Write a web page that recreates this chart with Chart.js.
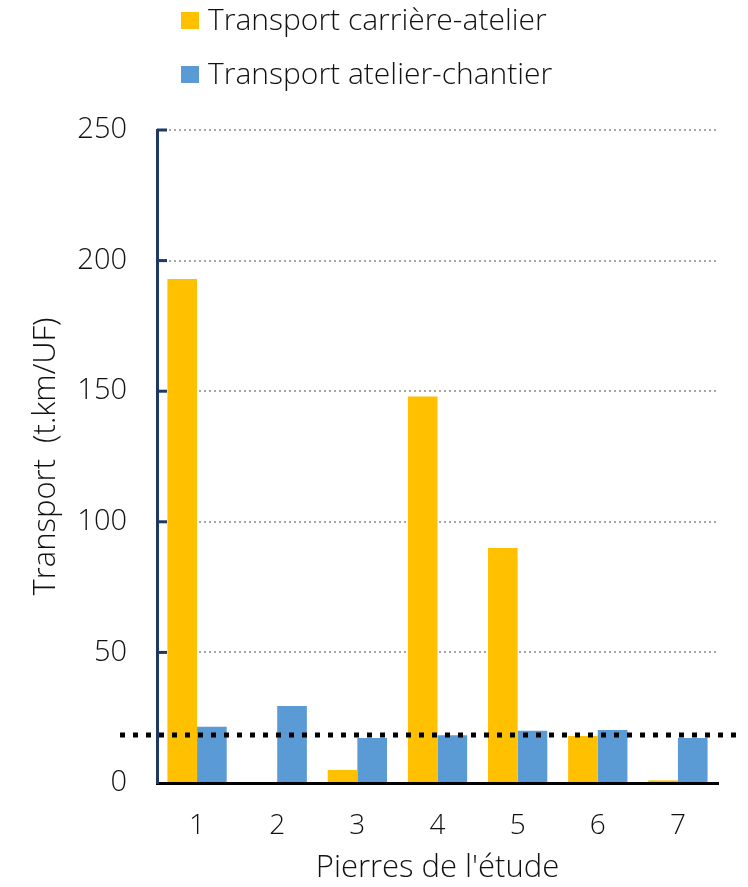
<!DOCTYPE html>
<html>
<head>
<meta charset="utf-8">
<script src="https://cdn.jsdelivr.net/npm/chart.js@4/dist/chart.umd.min.js"></script>
<style>
	html, body { margin: 0; padding: 0; background: #fff; }
	#wrap { width: 748px; height: 887px; }
</style>
</head>
<body>
<div id="wrap"><canvas id="chart" width="748" height="887"></canvas></div>
<script>
var pierres = ["1", "2", "3", "4", "5", "6", "7"];
var carriereAtelier = [193, 0, 5, 148, 90, 18, 1];
var atelierChantier = [21.5, 29.5, 17.2, 18.3, 20, 20.3, 17.2];
var seuil = 18.4; // dotted reference line
var yTicks = [0, 50, 100, 150, 200, 250];

var fontFamily = "'Open Sans', 'Noto Sans', sans-serif";
var navy = "#1f3864";
var textColor = "#111";

// legend drawn by hand: two rows, left aligned
var stackedLegend = {
	id: "stackedLegend",
	afterDraw: function (chart) {
		var ctx = chart.ctx;
		ctx.save();
		ctx.font = "300 30px " + fontFamily;
		ctx.textBaseline = "middle";
		chart.data.datasets.forEach(function (ds, i) {
			var y = 21 + i * 54;
			ctx.fillStyle = ds.backgroundColor;
			ctx.fillRect(181, y - 9, 18, 17);
			ctx.fillStyle = textColor;
			ctx.fillText(ds.label, 208, y);
		});
		ctx.restore();
	}
};

// inner navy tick marks on y axis + dotted threshold line
var extras = {
	id: "extras",
	afterDatasetsDraw: function (chart) {
		var ctx = chart.ctx;
		var yScale = chart.scales.y;
		var area = chart.chartArea;
		ctx.save();
		ctx.strokeStyle = navy;
		ctx.lineWidth = 3;
		yTicks.forEach(function (v) {
			if (v == 0) return;
			var py = yScale.getPixelForValue(v);
			ctx.beginPath();
			ctx.moveTo(area.left, py);
			ctx.lineTo(area.left + 10, py);
			ctx.stroke();
		});
		var ty = yScale.getPixelForValue(seuil);
		ctx.strokeStyle = "#000";
		ctx.lineWidth = 5;
		ctx.setLineDash([5, 8]);
		ctx.beginPath();
		ctx.moveTo(area.left - 37, ty);
		ctx.lineTo(area.right + 24, ty);
		ctx.stroke();
		ctx.restore();
	}
};

var chart = new Chart(document.getElementById("chart"), {
	type: "bar",
	data: {
		labels: pierres,
		datasets: [
			{ label: "Transport carrière-atelier", data: carriereAtelier, backgroundColor: "#FFC000", borderWidth: 0 },
			{ label: "Transport atelier-chantier", data: atelierChantier, backgroundColor: "#5B9BD5", borderWidth: 0 }
		]
	},
	options: {
		responsive: false,
		animation: false,
		layout: { padding: { top: 130, right: 30, left: 0, bottom: 0 } },
		datasets: { bar: { categoryPercentage: 0.74, barPercentage: 1.0 } },
		plugins: {
			legend: { display: false },
			tooltip: { enabled: false }
		},
		scales: {
			x: {
				grid: { display: false, drawTicks: false },
				border: { display: true, color: "#000", width: 3 },
				ticks: { color: textColor, font: { family: fontFamily, size: 28, weight: 300 }, padding: 26 },
				title: { display: true, text: "Pierres de l'étude", color: textColor, font: { family: fontFamily, size: 31, weight: 300 }, padding: { top: 0, bottom: 0 } },
				afterFit: function (s) { s.height = 887 - 783; }
			},
			y: {
				min: 0,
				max: 250,
				afterBuildTicks: function (s) { s.ticks = yTicks.map(function (v) { return { value: v }; }); },
				grid: { color: "#a6a6a6", lineWidth: 2, drawTicks: false },
				border: { display: true, color: navy, width: 3, dash: [2, 3] },
				ticks: { color: textColor, font: { family: fontFamily, size: 29, weight: 300 }, padding: 30 },
				title: { display: true, text: "Transport  (t.km/UF)", color: textColor, font: { family: fontFamily, size: 31, weight: 300 }, padding: { top: 28, bottom: 0 } },
				afterFit: function (s) { s.width = 157; }
			}
		}
	},
	plugins: [stackedLegend, extras]
});
</script>
</body>
</html>
